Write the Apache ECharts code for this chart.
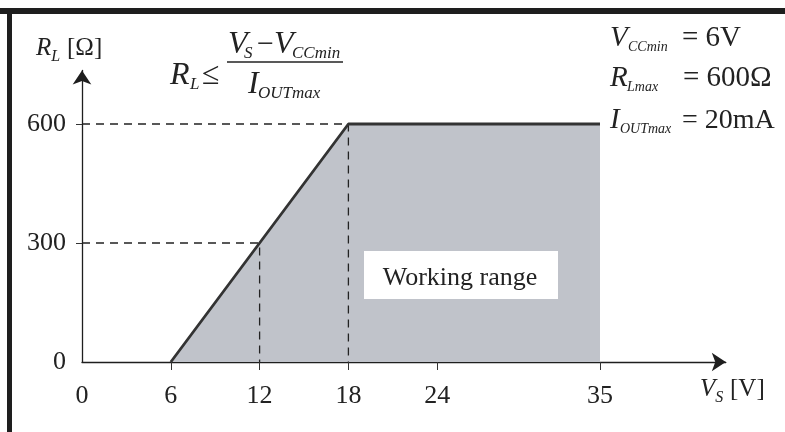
<!DOCTYPE html>
<html><head><meta charset="utf-8">
<script src="https://cdn.jsdelivr.net/npm/echarts@6/dist/echarts.min.js"></script>
<style>html,body{margin:0;padding:0;background:#fff}#c{width:785px;height:432px}</style>
</head><body><div id="c"></div>
<script>
// ---- data ----
const xTickValues = [0, 6, 12, 18, 24, 35];
const yTickValues = [0, 300, 600];
const boundaryVs = [6, 18, 35];        // V_S [V]
const boundaryRl = [0, 600, 600];      // R_L [Ω]
const guide600Vs = [0, 18, 18];
const guide600Rl = [600, 600, 0];
const guide300Vs = [0, 12, 12];
const guide300Rl = [300, 300, 0];

const pairs = (a, b) => a.map((v, i) => [v, b[i]]);

const FONT = '"Liberation Serif","Times New Roman",serif';
const INK = '#222';
const ctx = document.createElement('canvas').getContext('2d');
function fontStr(size, italic) { return (italic ? 'italic ' : '') + size + 'px ' + FONT; }
function measure(t, size, italic) { ctx.font = fontStr(size, italic); return ctx.measureText(t).width; }
// lay out a run of text tokens along a baseline
function run(x, base, toks) {
  const out = [];
  let cx = x;
  toks.forEach(tk => {
    if (tk.x != null) cx = tk.x;
    const b = base + (tk.dy || 0);
    out.push({
      type: 'text', x: cx, y: b - 0.3375 * tk.s, z: 100,
      style: { text: tk.t, font: fontStr(tk.s, tk.i), fill: INK, align: 'left', verticalAlign: 'middle' }
    });
    cx += measure(tk.t, tk.s, tk.i) + (tk.gap || 0);
  });
  return out;
}

const graphics = [];
// frame bars
graphics.push({ type: 'rect', shape: { x: 0, y: 8, width: 785, height: 6 }, style: { fill: '#1e1e1e' }, z: 50 });
graphics.push({ type: 'rect', shape: { x: 7, y: 8, width: 5, height: 424 }, style: { fill: '#1e1e1e' }, z: 50 });

// axis titles
graphics.push(...run(36, 57, [
  { t: 'R', s: 25, i: true }, { t: 'L', s: 16, i: true, dy: 5 }, { t: '[Ω]', s: 25, x: 67 }
]));
graphics.push(...run(700, 398, [
  { t: 'V', s: 25, i: true }, { t: 'S', s: 16, i: true, dy: 5 }, { t: '[V]', s: 25, x: 730 }
]));

// formula
graphics.push(...run(170, 86, [
  { t: 'R', s: 32, i: true }, { t: 'L', s: 17, i: true, dy: 4, x: 190 }, { t: '≤', s: 32, x: 202 }
]));
graphics.push(...run(228, 55, [
  { t: 'V', s: 32, i: true }, { t: 'S', s: 17, i: true, dy: 4, x: 244 },
  { t: '−', s: 30, x: 257 },
  { t: 'V', s: 32, i: true, x: 274 }, { t: 'CCmin', s: 17, i: true, dy: 4, x: 292 }
]));
graphics.push({ type: 'line', shape: { x1: 227, y1: 62, x2: 343, y2: 62 }, style: { stroke: INK, lineWidth: 1.4 }, z: 100 });
graphics.push(...run(248, 95, [
  { t: 'I', s: 32, i: true }, { t: 'OUTmax', s: 17, i: true, dy: 4, x: 258 }
]));

// parameters
graphics.push(...run(610, 48, [
  { t: 'V', s: 29, i: true }, { t: 'CCmin', s: 14, i: true, dy: 4, x: 628 }, { t: '= 6V', s: 29, x: 682 }
]));
graphics.push(...run(610, 88, [
  { t: 'R', s: 29, i: true }, { t: 'Lmax', s: 14, i: true, dy: 4, x: 627 }, { t: '= 600Ω', s: 29, x: 683 }
]));
graphics.push(...run(610, 130, [
  { t: 'I', s: 29, i: true }, { t: 'OUTmax', s: 14, i: true, dy: 4, x: 620 }, { t: '= 20mA', s: 28, x: 682 }
]));

// working range label
graphics.push({ type: 'rect', shape: { x: 364, y: 251, width: 194, height: 48 }, style: { fill: '#fff' }, z: 90 });
graphics.push({
  type: 'text', x: 460, y: 287 - 0.3375 * 26, z: 100,
  style: { text: 'Working range', font: fontStr(26, false), fill: INK, align: 'center', verticalAlign: 'middle' }
});

const chart = echarts.init(document.getElementById('c'), null, { renderer: 'canvas' });
const gridLeft = 82, gridBottom = 70;
const xMax = 43.5, yMax = 735;
const pxPerV = 14.8, pxPerOhm = 238 / 600;
chart.setOption({
  animation: false,
  backgroundColor: '#fff',
  grid: {
    left: gridLeft, bottom: gridBottom,
    width: xMax * pxPerV, height: yMax * pxPerOhm,
    containLabel: false, outerBoundsMode: 'none'
  },
  xAxis: {
    type: 'value', min: 0, max: xMax,
    axisLine: { show: true, onZero: false, symbol: ['none', 'arrow'], symbolSize: [14, 14],
      lineStyle: { color: '#1e1e1e', width: 1.3 } },
    axisTick: { show: true, customValues: xTickValues.filter(v => v > 0), length: 8, inside: false,
      lineStyle: { color: '#333', width: 1 } },
    axisLabel: { show: true, customValues: xTickValues, margin: 21, color: INK,
      fontFamily: FONT, fontSize: 26 },
    splitLine: { show: false }
  },
  yAxis: {
    type: 'value', min: 0, max: yMax,
    axisLine: { show: true, onZero: false, symbol: ['none', 'arrow'], symbolSize: [14, 14],
      lineStyle: { color: '#1e1e1e', width: 1.3 } },
    axisTick: { show: true, customValues: yTickValues.filter(v => v > 0), length: 6,
      lineStyle: { color: '#333', width: 1 } },
    axisLabel: { show: true, customValues: yTickValues, margin: 16, color: INK,
      fontFamily: FONT, fontSize: 26 },
    splitLine: { show: false }
  },
  series: [
    {
      type: 'line', data: pairs(boundaryVs, boundaryRl), symbol: 'none', z: 1,
      lineStyle: { width: 0 }, areaStyle: { color: '#c0c3ca', opacity: 1 }, silent: true
    },
    {
      type: 'line', data: pairs(guide600Vs, guide600Rl), symbol: 'none', z: 3,
      lineStyle: { color: '#222', width: 1.3, type: [8, 6] }
    },
    {
      type: 'line', data: pairs(guide300Vs, guide300Rl), symbol: 'none', z: 3,
      lineStyle: { color: '#222', width: 1.3, type: [8, 6] }
    },
    {
      type: 'line', data: pairs(boundaryVs, boundaryRl), symbol: 'none', z: 5,
      lineStyle: { color: '#333', width: 2.8 }
    }
  ],
  graphic: graphics
});
</script>
</body></html>
